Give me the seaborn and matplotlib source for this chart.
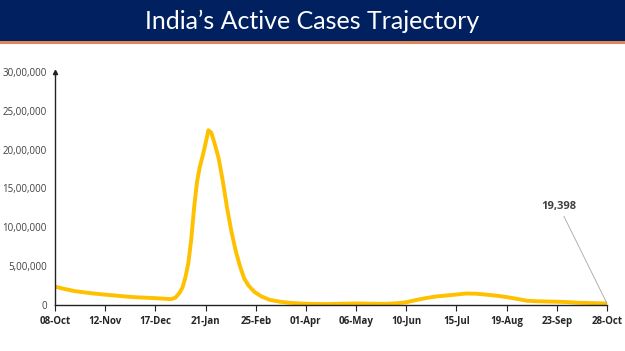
import pandas as pd
import seaborn as sns
import matplotlib.pyplot as plt
import matplotlib.dates as mdates
from matplotlib.patches import Rectangle
from matplotlib.ticker import FuncFormatter


# active cases
dates = ["2021-10-08", "2021-10-15", "2021-10-22", "2021-10-29", "2021-11-05",
         "2021-11-12", "2021-11-19", "2021-11-26", "2021-12-03", "2021-12-10",
         "2021-12-17", "2021-12-24", "2021-12-28", "2021-12-31", "2022-01-03",
         "2022-01-05", "2022-01-07", "2022-01-09", "2022-01-11", "2022-01-13",
         "2022-01-15", "2022-01-17", "2022-01-19", "2022-01-21", "2022-01-23",
         "2022-01-25", "2022-01-27", "2022-01-30", "2022-02-02", "2022-02-05",
         "2022-02-08", "2022-02-11", "2022-02-14", "2022-02-17", "2022-02-20",
         "2022-02-24", "2022-03-01", "2022-03-07", "2022-03-14", "2022-03-21",
         "2022-03-28", "2022-04-04", "2022-04-15", "2022-04-25", "2022-05-06",
         "2022-05-16", "2022-05-26", "2022-06-03", "2022-06-10", "2022-06-17",
         "2022-06-24", "2022-07-01", "2022-07-08", "2022-07-15", "2022-07-22",
         "2022-07-29", "2022-08-05", "2022-08-12", "2022-08-19", "2022-08-26",
         "2022-09-02", "2022-09-09", "2022-09-16", "2022-09-23", "2022-09-30",
         "2022-10-07", "2022-10-14", "2022-10-21", "2022-10-28"]
active = [236000, 205000, 178000, 161000, 146000,
          133000, 122000, 110000, 100000, 94000,
          88000, 80000, 76000, 95000, 160000,
          230000, 360000, 540000, 840000, 1250000,
          1580000, 1780000, 1920000, 2080000, 2250000,
          2220000, 2100000, 1900000, 1600000, 1250000,
          950000, 700000, 500000, 340000, 250000,
          170000, 110000, 65000, 42000, 28000,
          20000, 15000, 12000, 16000, 20000,
          17000, 15000, 22000, 35000, 65000,
          90000, 110000, 122000, 135000, 148000,
          145000, 133000, 120000, 102000, 80000,
          55000, 48000, 45000, 42000, 38000,
          30000, 26000, 23000, 19398]

tick_start = "2021-10-08"
tick_step_days = 35
n_ticks = 12
y_max = 3000000
y_step = 500000


def indian_format(v, pos=None):
    v = int(round(v))
    if v == 0:
        return "0"
    s = str(v)
    last3 = s[-3:]
    rest = s[:-3]
    parts = []
    while len(rest) > 2:
        parts.insert(0, rest[-2:])
        rest = rest[:-2]
    if rest:
        parts.insert(0, rest)
    return ",".join(parts + [last3])


df = pd.DataFrame({"date": pd.to_datetime(dates), "active": active})

sns.set_style("white")
plt.rcParams['font.family'] = ['Open Sans', 'DejaVu Sans']

fig = plt.figure(figsize=(6.25, 3.51), dpi=100)

# title banner
fig.patches.append(Rectangle((0, 1 - 41.5 / 351), 1, 41.5 / 351, transform=fig.transFigure,
                             facecolor="#002060", edgecolor="none", zorder=0))
fig.patches.append(Rectangle((0, 1 - 43.5 / 351), 1, 2 / 351, transform=fig.transFigure,
                             facecolor="#E0845A", edgecolor="none", zorder=0))
fig.text(0.5, 1 - 21.5 / 351, "India\u2019s Active Cases Trajectory", color="white",
         ha="center", va="center", fontsize=18, family=['Lato', 'DejaVu Sans'])

ax = fig.add_axes([55 / 625, 1 - 305 / 351, (607 - 55) / 625, (305 - 72) / 351])
sns.lineplot(data=df, x="date", y="active", ax=ax, color="#FFC000", linewidth=2.8)

ticks = pd.date_range(tick_start, periods=n_ticks, freq=f"{tick_step_days}D")
ax.set_xlim(ticks[0], ticks[-1])
ax.set_xticks(ticks)
ax.xaxis.set_major_formatter(mdates.DateFormatter("%d-%b"))
ax.set_ylim(0, y_max)
ax.set_yticks(range(0, y_max + 1, y_step))
ax.yaxis.set_major_formatter(FuncFormatter(indian_format))

ax.set(xlabel=None, ylabel=None)
sns.despine(ax=ax)
for side in ["left", "bottom"]:
    ax.spines[side].set_color("#222222")
    ax.spines[side].set_linewidth(1.0)
ax.tick_params(axis="x", length=4, width=0.8, color="#222222", pad=4,
               labelsize=7, labelcolor="#262626", direction="out", bottom=True)
ax.tick_params(axis="y", length=0, pad=6, labelsize=7, labelcolor="#404040")
for lbl in ax.get_xticklabels():
    lbl.set_fontweight("bold")

# arrow head on top of y axis
ax.plot([0], [1], marker="^", color="#222222", markersize=3, transform=ax.transAxes,
        clip_on=False)

# label on the last value
ax.annotate(f"{active[-1]:,}", xy=(df["date"].iloc[-1], active[-1]),
            xytext=(-22, 70), textcoords="offset points", ha="right", va="center",
            fontsize=8, fontweight="bold", color="#404040",
            arrowprops=dict(arrowstyle="-", color="#A6A6A6", lw=0.6, shrinkA=1, shrinkB=0))

fig.savefig("out.png", dpi=100)
